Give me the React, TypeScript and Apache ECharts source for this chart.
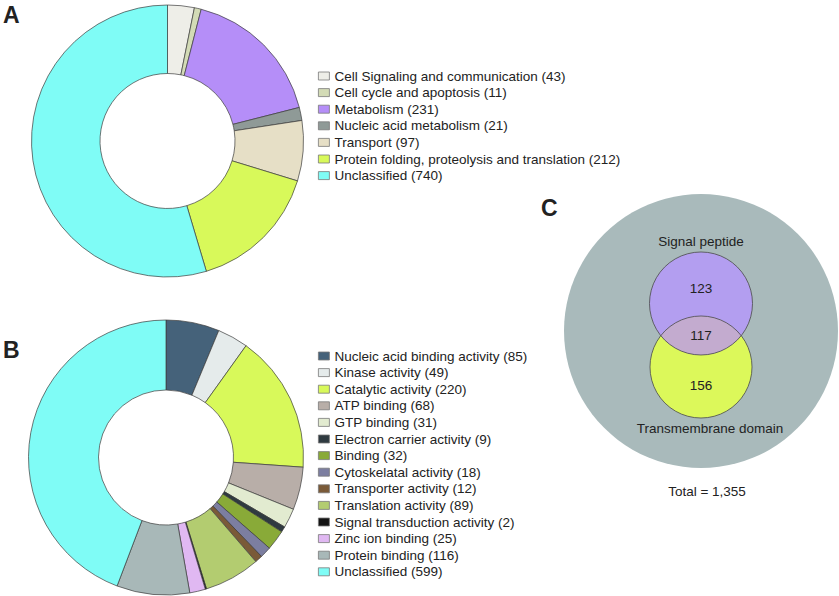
import React, { useEffect, useRef } from "react";
import * as echarts from "echarts";

const FONT = "'Liberation Sans', Arial, Helvetica, sans-serif";

// Panel A: biological process
const catA = [
  "Cell Signaling and communication",
  "Cell cycle and apoptosis",
  "Metabolism",
  "Nucleic acid metabolism",
  "Transport",
  "Protein folding, proteolysis and translation",
  "Unclassified",
];
const valA = [43, 11, 231, 21, 97, 212, 740];
const colA = ["#eeeee8", "#d3dbb6", "#b58ef8", "#8f9a97", "#e6dfc6", "#d8f95a", "#7ffcf6"];

// Panel B: molecular function
const catB = [
  "Nucleic acid binding activity",
  "Kinase activity",
  "Catalytic activity",
  "ATP binding",
  "GTP binding",
  "Electron carrier activity",
  "Binding",
  "Cytoskelatal activity",
  "Transporter activity",
  "Translation activity",
  "Signal transduction activity",
  "Zinc ion binding",
  "Protein binding",
  "Unclassified",
];
const valB = [85, 49, 220, 68, 31, 9, 32, 18, 12, 89, 2, 25, 116, 599];
const colB = [
  "#45627a", "#e5ebeb", "#d8f95a", "#b8aea8", "#e2ebd0", "#2f3a40", "#89aa38",
  "#7c7ea0", "#7a5a38", "#b3cc70", "#141414", "#e0b8f2", "#a8b8b8", "#7ffcf6",
];

// Panel C: Venn diagram
const vennNames = ["Signal peptide", "Transmembrane domain"];
const vennCounts = [123, 117, 156]; // signal only, both, transmembrane only
const vennTotal = 1355;

function lensPoints(cx: number, c1y: number, r1: number, c2y: number, r2: number) {
  const d = c2y - c1y;
  const a = (r1 * r1 - r2 * r2 + d * d) / (2 * d);
  const h = Math.sqrt(r1 * r1 - a * a);
  const pts: number[][] = [];
  const n = 48;
  const p0 = Math.atan2(a, h), p1 = Math.atan2(a, -h);
  for (let i = 0; i <= n; i++) {
    const t = p0 + ((p1 - p0) * i) / n;
    pts.push([cx + r1 * Math.cos(t), c1y + r1 * Math.sin(t)]);
  }
  const q0 = Math.atan2(a - d, -h), q1 = Math.atan2(a - d, h);
  for (let i = 0; i <= n; i++) {
    const t = q0 + ((q1 - q0) * i) / n;
    pts.push([cx + r2 * Math.cos(t), c2y + r2 * Math.sin(t)]);
  }
  return pts;
}

export default function App() {
  const ref = useRef<HTMLDivElement>(null);
  useEffect(() => {
    if (!ref.current) return;
    const chart = echarts.init(ref.current, undefined, { renderer: "svg" });
    const namesA = catA.map((c, i) => `${c} (${valA[i]})`);
    const namesB = catB.map((c, i) => `${c} (${valB[i]})`);
    const pieBase = {
      type: "pie",
      startAngle: 90,
      clockwise: true,
      label: { show: false },
      labelLine: { show: false },
      emphasis: { disabled: true },
      silent: true,
      itemStyle: { borderColor: "#3c3c3c", borderWidth: 0.7 },
    };
    const legendBase = {
      orient: "vertical",
      icon: "rect",
      itemWidth: 11,
      itemHeight: 8,
      itemGap: 2.6,
      padding: 0,
      selectedMode: false,
      itemStyle: { borderColor: "#7a7a7a", borderWidth: 0.8 },
      textStyle: { fontSize: 13.5, fontFamily: FONT, color: "#222", lineHeight: 14 },
    };
    const vx = 701;
    const pC = { y: 303.5, r: 51.5 };
    const yC = { y: 367, r: 51 };
    const lens = lensPoints(vx, pC.y, pC.r, yC.y, yC.r);
    const txt = (text: string, x: number, y: number, size = 13.5, weight = "normal", align = "center") => ({
      type: "text",
      x,
      y,
      silent: true,
      style: {
        text,
        fill: "#222",
        font: `${weight} ${size}px ${FONT}`,
        textAlign: align,
        textVerticalAlign: "middle",
      },
    });
    chart.setOption({
      animation: false,
      backgroundColor: "#ffffff",
      legend: [
        { ...legendBase, left: 318, top: 69, data: namesA },
        { ...legendBase, left: 318, top: 349, data: namesB },
      ],
      series: [
        {
          ...pieBase,
          center: [167.5, 141],
          radius: [67.5, 136],
          data: namesA.map((n, i) => ({ name: n, value: valA[i], itemStyle: { color: colA[i] } })),
        },
        {
          ...pieBase,
          center: [166, 457.5],
          radius: [67.5, 137.5],
          data: namesB.map((n, i) => ({ name: n, value: valB[i], itemStyle: { color: colB[i] } })),
        },
      ],
      graphic: [
        { type: "circle", shape: { cx: vx, cy: 331, r: 137 }, style: { fill: "#a9babb" }, silent: true },
        { type: "circle", shape: { cx: vx, cy: yC.y, r: yC.r }, style: { fill: "#dcf85a" }, silent: true },
        { type: "circle", shape: { cx: vx, cy: pC.y, r: pC.r }, style: { fill: "#b39ef0" }, silent: true },
        { type: "polygon", shape: { points: lens }, style: { fill: "#c3abcf" }, silent: true },
        { type: "circle", shape: { cx: vx, cy: yC.y, r: yC.r }, style: { fill: "none", stroke: "#4a4a4a", lineWidth: 0.8 }, silent: true },
        { type: "circle", shape: { cx: vx, cy: pC.y, r: pC.r }, style: { fill: "none", stroke: "#4a4a4a", lineWidth: 0.8 }, silent: true },
        txt(vennNames[0], vx, 241),
        txt(String(vennCounts[0]), vx, 288),
        txt(String(vennCounts[1]), vx, 335.5),
        txt(String(vennCounts[2]), vx, 385),
        txt(vennNames[1], vx + 9, 428),
        txt(`Total = ${vennTotal.toLocaleString("en-US")}`, 707, 491),
        txt("A", 3, 15, 23, "bold", "left"),
        txt("B", 3, 350, 23, "bold", "left"),
        txt("C", 541, 208, 23, "bold", "left"),
      ],
    });
    return () => chart.dispose();
  }, []);
  return (
    <div
      ref={ref}
      style={{ position: "fixed", left: 0, top: 0, width: 839, height: 596, background: "#fff" }}
    />
  );
}
